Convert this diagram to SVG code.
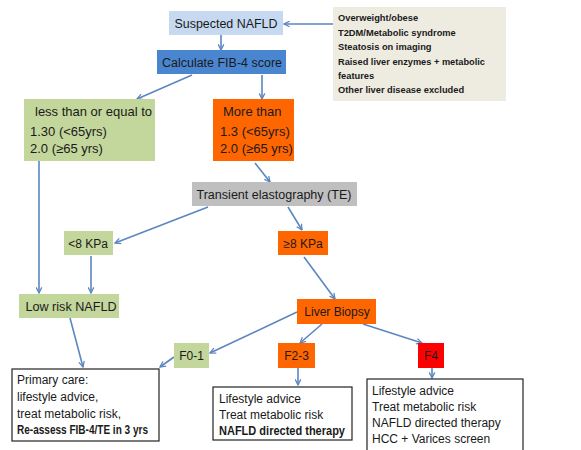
<svg xmlns="http://www.w3.org/2000/svg" width="581" height="450" viewBox="0 0 581 450">
<style>
text{font-family:"Liberation Sans",Arial,sans-serif;font-size:12px;fill:#1a1a1a}
.s{font-size:9.3px;font-weight:bold}
.b{font-weight:bold}
.m{font-size:13px}
.c{stroke:#5b86c0;stroke-width:1.6;fill:none;marker-end:url(#ah)}
.g{fill:#c3d69b}
.o{fill:#ff6600}
.w{fill:#fff;stroke:#222;stroke-width:1.2}
</style>
<defs>
<marker id="ah" viewBox="0 0 10 10" refX="9" refY="5" markerWidth="7" markerHeight="7" markerUnits="userSpaceOnUse" orient="auto">
<path d="M1,1 L9,5 L1,9" fill="none" stroke="#5b86c0" stroke-width="1.8"/>
</marker>
</defs>
<rect width="581" height="450" fill="#fff"/>
<g id="connectors">
<line class="c" x1="333" y1="24" x2="284" y2="24"/>
<line class="c" x1="221" y1="35" x2="221" y2="50"/>
<line class="c" x1="192" y1="75" x2="137" y2="99"/>
<line class="c" x1="262" y1="75" x2="262" y2="99"/>
<line class="c" x1="255" y1="163" x2="270" y2="182"/>
<line class="c" x1="39" y1="161" x2="39" y2="293"/>
<line class="c" x1="208" y1="207" x2="115" y2="243"/>
<line class="c" x1="288" y1="207" x2="302" y2="230"/>
<line class="c" x1="91" y1="256" x2="91" y2="293"/>
<line class="c" x1="304" y1="257" x2="335" y2="299"/>
<line class="c" x1="297" y1="312" x2="210" y2="353"/>
<line class="c" x1="322" y1="324" x2="300" y2="343"/>
<line class="c" x1="363" y1="324" x2="422" y2="343"/>
<line class="c" x1="70" y1="318" x2="83" y2="367"/>
<line class="c" x1="174" y1="357" x2="160" y2="367"/>
<line class="c" x1="298" y1="368" x2="298" y2="385"/>
<line class="c" x1="432" y1="368" x2="432" y2="378"/>
</g>
<g id="suspected">
<rect x="169" y="11" width="114" height="24" fill="#c6d9f1"/>
<text x="226" y="28" text-anchor="middle" textLength="103" lengthAdjust="spacingAndGlyphs">Suspected NAFLD</text>
</g>
<g id="criteria">
<rect x="333" y="7" width="173" height="94" fill="#eeece1"/>
<text class="s" x="338" y="21">Overweight/obese</text>
<text class="s" x="338" y="36">T2DM/Metabolic  syndrome</text>
<text class="s" x="338" y="50">Steatosis on imaging</text>
<text class="s" x="338" y="65" textLength="147" lengthAdjust="spacingAndGlyphs">Raised liver enzymes + metabolic</text>
<text class="s" x="338" y="79">features</text>
<text class="s" x="338" y="93">Other liver disease excluded</text>
</g>
<g id="fib4">
<rect x="157" y="50" width="129" height="24" fill="#4a86d0"/>
<text x="222" y="67" text-anchor="middle" textLength="120" lengthAdjust="spacingAndGlyphs">Calculate FIB-4 score</text>
</g>
<g id="low-fib">
<rect class="g" x="24" y="99" width="131" height="62"/>
<text class="m" x="35" y="116" textLength="117" lengthAdjust="spacingAndGlyphs">less than or equal to</text>
<text class="m" x="30" y="136">1.30 (&lt;65yrs)</text>
<text class="m" x="30" y="153">2.0 (≥65 yrs)</text>
</g>
<g id="high-fib">
<rect class="o" x="213" y="99" width="81" height="62"/>
<text class="m" x="223" y="116">More than</text>
<text class="m" x="220" y="136">1.3 (&lt;65yrs)</text>
<text class="m" x="220" y="153">2.0 (≥65 yrs)</text>
</g>
<g id="te">
<rect x="192" y="182" width="165" height="24" fill="#bfbfbf"/>
<text x="274" y="199" text-anchor="middle" textLength="155" lengthAdjust="spacingAndGlyphs">Transient elastography (TE)</text>
</g>
<g id="lt8">
<rect class="g" x="64" y="231" width="49" height="24"/>
<text x="88" y="248" text-anchor="middle">&lt;8 KPa</text>
</g>
<g id="ge8">
<rect class="o" x="278" y="231" width="50" height="24"/>
<text x="303" y="248" text-anchor="middle">≥8 KPa</text>
</g>
<g id="lowrisk">
<rect class="g" x="19" y="294" width="100" height="24"/>
<text x="71" y="311" text-anchor="middle" textLength="91" lengthAdjust="spacingAndGlyphs">Low risk NAFLD</text>
</g>
<g id="biopsy">
<rect class="o" x="297" y="299" width="79" height="25"/>
<text x="337" y="316" text-anchor="middle">Liver Biopsy</text>
</g>
<g id="f01">
<rect class="g" x="174" y="343" width="35" height="25"/>
<text x="191.5" y="360" text-anchor="middle">F0-1</text>
</g>
<g id="f23">
<rect class="o" x="278" y="343" width="37" height="25"/>
<text x="296.5" y="360" text-anchor="middle">F2-3</text>
</g>
<g id="f4">
<rect x="418" y="343" width="26" height="25" fill="#ff0000"/>
<text x="431" y="360" text-anchor="middle">F4</text>
</g>
<g id="primary">
<rect class="w" x="12" y="369" width="147" height="72"/>
<text x="17" y="384">Primary care:</text>
<text x="17" y="401">lifestyle advice,</text>
<text x="17" y="418">treat metabolic risk,</text>
<text class="b" x="17" y="434" textLength="131" lengthAdjust="spacingAndGlyphs">Re-assess FIB-4/TE in 3 yrs</text>
</g>
<g id="f23care">
<rect class="w" x="213" y="387" width="139" height="53"/>
<text x="219" y="403">Lifestyle advice</text>
<text x="219" y="419">Treat metabolic risk</text>
<text class="b" x="219" y="435" textLength="126" lengthAdjust="spacingAndGlyphs">NAFLD directed therapy</text>
</g>
<g id="f4care">
<rect class="w" x="367" y="379" width="156" height="75"/>
<text x="372" y="395">Lifestyle advice</text>
<text x="372" y="411">Treat metabolic risk</text>
<text x="372" y="427">NAFLD directed therapy</text>
<text x="372" y="443">HCC + Varices screen</text>
</g>
</svg>
